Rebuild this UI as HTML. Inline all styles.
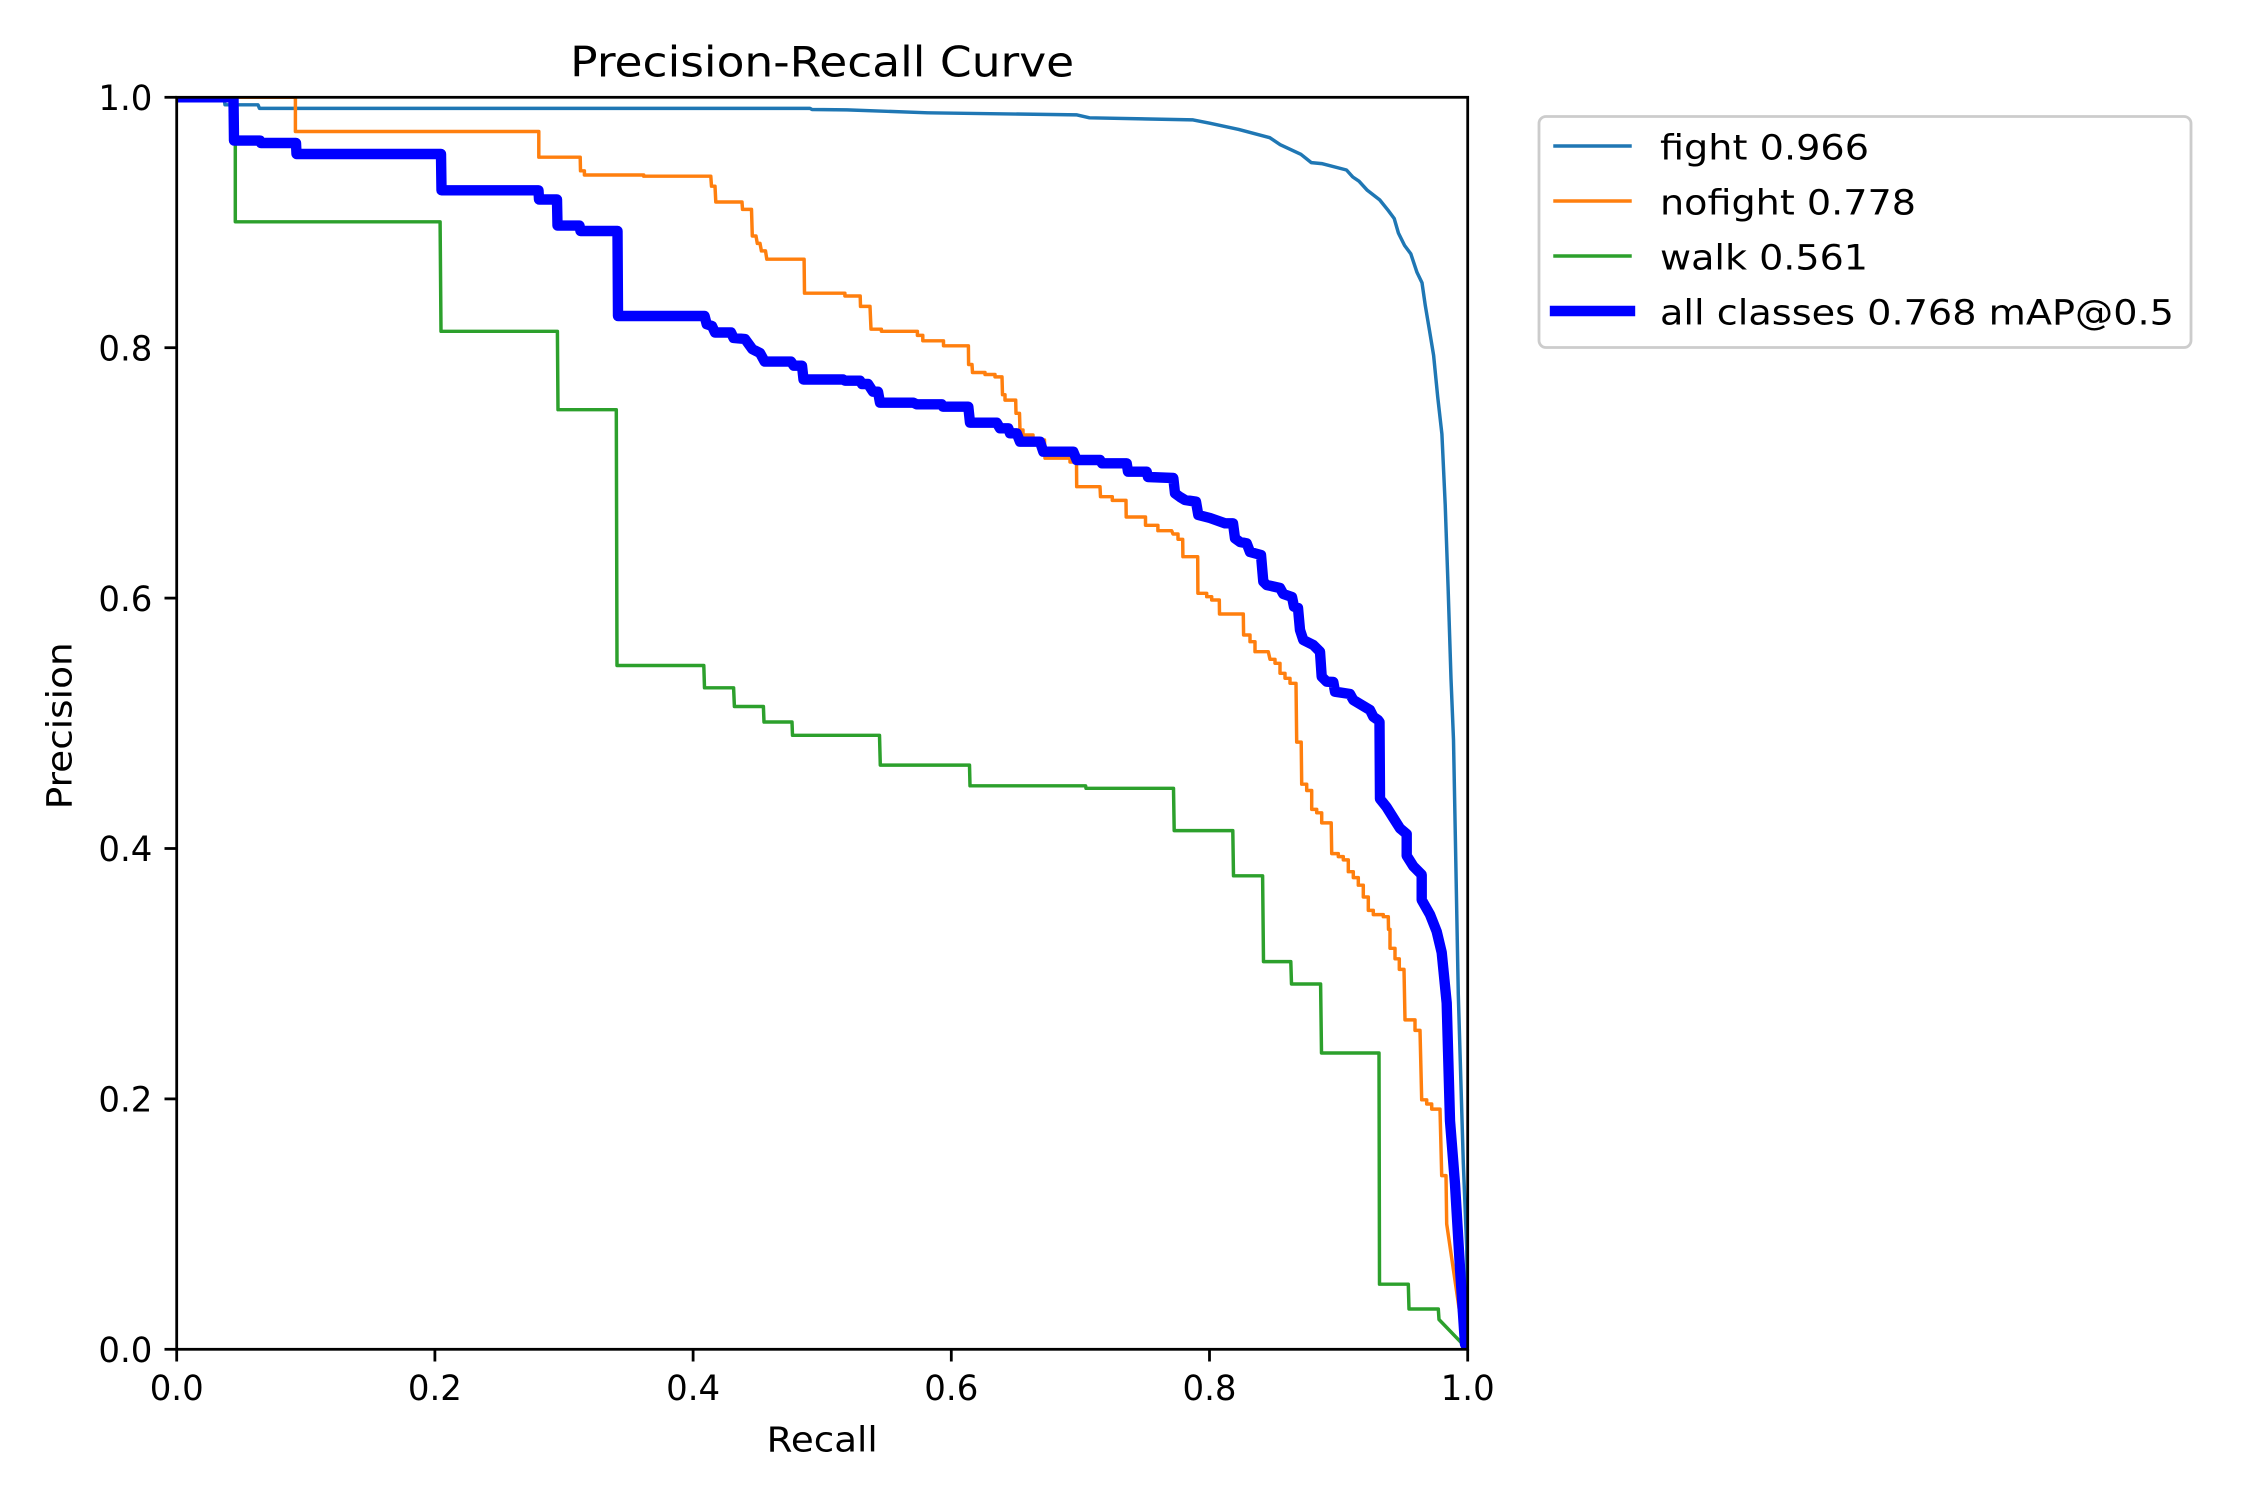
<!DOCTYPE html>
<html>
<head>
<meta charset="utf-8">
<style>
  html, body { margin: 0; padding: 0; background: #ffffff; }
  svg { display: block; }
  text { font-family: "DejaVu Sans", "Liberation Sans", sans-serif; fill: #000; }
</style>
</head>
<body>
<svg width="2250" height="1500" viewBox="0 0 2250 1500" xmlns="http://www.w3.org/2000/svg">
  <rect x="0" y="0" width="2250" height="1500" fill="#ffffff"/>
  <defs>
    <clipPath id="ax">
      <rect x="176.7" y="97.3" width="1291" height="1252"/>
    </clipPath>
  </defs>

  <!-- Title -->
  <text x="822.2" y="76.7" font-size="41.67" text-anchor="middle" textLength="504" lengthAdjust="spacingAndGlyphs">Precision-Recall Curve</text>

  <!-- Series -->
  <g clip-path="url(#ax)" fill="none" stroke-linejoin="round" stroke-linecap="square">
    <!-- fight -->
    <path stroke="#1f77b4" stroke-width="3.47" d="M176.7,97.3 L224,97.3 L225,104.8 L258,104.8 L259.5,108.4 L810,108.4 L812,109.5 L847,109.9 L927.8,112.8 L1077,114.9 L1089.5,117.8 L1193.1,119.9 L1209.7,123.2 L1238.7,129.4 L1269.8,137.7 L1280.2,144.7 L1300.9,154.3 L1311.3,162.6 L1321.7,163.6 L1346.5,170 L1352.8,177 L1359,181.2 L1367.3,190.3 L1379.7,199.9 L1388,210.2 L1394.2,218.5 L1398.4,233 L1404.6,245.5 L1410.8,253.8 L1417,272.4 L1422,282.8 L1425.3,305.6 L1429.5,330.5 L1433.6,355.3 L1437.7,396.8 L1441.9,434.1 L1445.2,504.6 L1448.1,587.5 L1451,678.7 L1453.5,740 L1455.3,834.7 L1458.3,994.6 L1463.3,1163 L1466.7,1247 L1467.7,1349.3"/>
    <!-- nofight -->
    <path stroke="#ff7f0e" stroke-width="3.47" d="M176.7,97.3 L295.4,97.3 L295.4,131.5 L538.8,131.5 L538.8,157.2 L580.2,157.2 L580.5,170.8 L584.4,170.8 L584.4,175 L643.7,175 L643.7,176.2 L710.8,176.2 L711.5,186.2 L715,186.2 L715.8,202 L742,202 L742.5,209.4 L751.5,209.4 L752.3,236 L756,236 L757.3,243.4 L760,243.4 L761.4,250.9 L765.5,250.9 L766.8,259.2 L804.1,259.2 L804.5,293.2 L844.9,293.2 L844.9,296 L860.2,296 L860.5,306.4 L870,306.4 L871,329.2 L881.4,329.2 L881.4,331.3 L917.4,331.3 L917.4,335.4 L922.8,335.4 L922.8,340.8 L943.5,340.8 L943.5,345.8 L968.4,345.8 L968.6,364.5 L972,364.5 L972.5,372.5 L985,372.5 L985,374.5 L995,374.5 L995,376.9 L1002,376.9 L1002.5,394.7 L1005,394.7 L1005,400.1 L1015.7,400.1 L1016,413.3 L1019.5,413.3 L1020,430 L1023,430 L1023,435 L1033,435 L1033,440 L1044.5,440 L1045,458.2 L1070,458.2 L1070,462 L1076.5,462 L1076.7,486.7 L1100,486.7 L1100.5,496.7 L1112.3,496.7 L1112.3,500.4 L1126,500.4 L1126.2,517 L1145.5,517 L1145.5,525.3 L1157.9,525.3 L1157.9,530.7 L1171.7,530.7 L1173,534 L1178,534 L1178,539.3 L1182.7,539.3 L1182.9,556.7 L1197.7,556.7 L1197.9,593.3 L1206.7,593.3 L1206.7,596.7 L1211.7,596.7 L1211.7,600 L1219.3,600 L1219.5,614 L1243.3,614 L1243.6,635 L1250,635 L1250,641.7 L1255,641.7 L1255,651.7 L1268.3,651.7 L1270,659.3 L1275,659.3 L1275,663.3 L1280,663.3 L1280,673.3 L1285,673.3 L1285,678.3 L1290,678.3 L1290,683.3 L1296,683.3 L1296.7,742.1 L1301.2,742.1 L1301.7,784.2 L1306.7,784.2 L1306.7,790.5 L1311.7,790.5 L1311.7,809.4 L1316.7,809.4 L1316.7,812.8 L1321.7,812.8 L1321.7,822.9 L1331.2,822.9 L1331.7,853.6 L1338.3,853.6 L1338.3,856.6 L1343.3,856.6 L1343.3,859.9 L1348.3,859.9 L1348.3,871.7 L1353.3,871.7 L1353.3,877.6 L1358.3,877.6 L1358.3,885.2 L1363.3,885.2 L1363.3,897 L1368.3,897 L1368.3,910.4 L1373.3,910.4 L1373.3,914.6 L1383.3,914.6 L1383.3,916.7 L1388.3,916.7 L1388.5,929.4 L1390,929.4 L1390,948.3 L1395,948.3 L1395,958.8 L1399.3,958.8 L1399.3,969.4 L1404,969.4 L1405,1019.9 L1415,1019.9 L1415,1030.4 L1420,1030.4 L1421.7,1099.8 L1426.7,1099.8 L1426.7,1104 L1431.7,1104 L1431.7,1109.1 L1440,1109.1 L1441.7,1175.6 L1446,1175.6 L1446.7,1224 L1460,1314.5 L1467.7,1349.3"/>
    <!-- walk -->
    <path stroke="#2ca02c" stroke-width="3.47" d="M176.7,97.3 L235.3,97.3 L235.3,221.8 L440.1,221.8 L441,331.3 L557.4,331.3 L558,409.7 L616.3,409.7 L617,665.5 L703.8,665.5 L704.5,687.8 L733.6,687.8 L734.4,706.5 L763.4,706.5 L764,722 L792,722 L792.5,735.3 L879.5,735.3 L880.3,765.1 L969.5,765.1 L970,785.8 L1085.6,785.8 L1086,788.3 L1173.5,788.3 L1174.2,830.6 L1232.8,830.6 L1233.5,875.8 L1262.6,875.8 L1263.5,961.6 L1290.8,961.6 L1291.5,984 L1320.6,984 L1321.5,1053 L1379,1053 L1379.5,1284.2 L1408.3,1284.2 L1409,1309 L1438.3,1309 L1439,1319.5 L1467.7,1349.3"/>
    <!-- all classes -->
    <path stroke="#0000ff" stroke-width="10.4" d="M176.7,97.3 L233.5,97.3 L234,140.6 L260,140.6 L261,143 L296,143 L296.5,154 L441,154 L441.5,190.3 L538.5,190.3 L539,199.5 L557,199.5 L557.5,225.6 L579.5,225.6 L580.5,231 L617.5,231 L618,316 L704.6,316 L706.7,324.2 L712,326 L715,332.5 L731,332.5 L733.6,338 L745,339 L752.3,349.1 L760,353 L764.7,361.6 L791,361.6 L793.7,365.7 L802,365.7 L803.5,379.5 L843,379.5 L845,380.7 L860,380.7 L862,384 L868,384 L873,391.7 L878,391.7 L880,402.7 L913.3,402.7 L916.7,404.3 L941.7,404.3 L943,406.7 L968.3,406.7 L970,422.7 L996.7,422.7 L1000,428.3 L1008.3,428.3 L1010,433.3 L1016.7,433.3 L1020,441.7 L1040,441.7 L1043.3,451.7 L1073.3,451.7 L1076.7,460 L1100,460 L1102,463.3 L1126.7,463.3 L1128,471.7 L1146.7,471.7 L1148,477 L1173.3,478 L1175,493.3 L1180,497 L1185,500 L1196,501.7 L1198.3,515 L1210,518 L1225,523.3 L1233,523.3 L1235,538.3 L1240,542 L1246.7,543.3 L1250,552 L1261,555 L1263.3,581.7 L1266.7,585 L1280,588 L1283.3,594 L1292,597 L1294,606.7 L1298,608 L1300,630 L1303.3,640 L1313.3,645 L1320,651.7 L1321.7,676.7 L1326.7,681.7 L1333.3,682 L1335,691.7 L1350,694 L1353.3,700 L1370,710 L1373.3,716.7 L1378,720 L1379.5,722 L1380,798.9 L1386.7,807.3 L1393.3,817.8 L1400,828.4 L1406.7,834 L1406.7,855.7 L1413.3,866.2 L1421.7,874.7 L1421.7,899.9 L1430,914.6 L1436.7,931.5 L1441.7,952.5 L1446.7,1003 L1450,1120.9 L1455,1184 L1460,1268.2 L1465,1343.9 L1467.7,1349.3"/>
  </g>

  <!-- Axes frame -->
  <rect x="176.7" y="97.3" width="1291" height="1252" fill="none" stroke="#000" stroke-width="2.78" stroke-linecap="square"/>

  <!-- X ticks -->
  <g stroke="#000" stroke-width="2.78">
    <line x1="176.7" y1="1349.3" x2="176.7" y2="1361.5"/>
    <line x1="434.9" y1="1349.3" x2="434.9" y2="1361.5"/>
    <line x1="693.1" y1="1349.3" x2="693.1" y2="1361.5"/>
    <line x1="951.3" y1="1349.3" x2="951.3" y2="1361.5"/>
    <line x1="1209.5" y1="1349.3" x2="1209.5" y2="1361.5"/>
    <line x1="1467.7" y1="1349.3" x2="1467.7" y2="1361.5"/>
  </g>
  <g font-size="34.72" text-anchor="middle">
    <text x="176.7" y="1400" textLength="54" lengthAdjust="spacingAndGlyphs">0.0</text>
    <text x="434.9" y="1400" textLength="54" lengthAdjust="spacingAndGlyphs">0.2</text>
    <text x="693.1" y="1400" textLength="54" lengthAdjust="spacingAndGlyphs">0.4</text>
    <text x="951.3" y="1400" textLength="54" lengthAdjust="spacingAndGlyphs">0.6</text>
    <text x="1209.5" y="1400" textLength="54" lengthAdjust="spacingAndGlyphs">0.8</text>
    <text x="1467.7" y="1400" textLength="54" lengthAdjust="spacingAndGlyphs">1.0</text>
  </g>

  <!-- Y ticks -->
  <g stroke="#000" stroke-width="2.78">
    <line x1="164.5" y1="1349.3" x2="176.7" y2="1349.3"/>
    <line x1="164.5" y1="1098.9" x2="176.7" y2="1098.9"/>
    <line x1="164.5" y1="848.5" x2="176.7" y2="848.5"/>
    <line x1="164.5" y1="598.1" x2="176.7" y2="598.1"/>
    <line x1="164.5" y1="347.7" x2="176.7" y2="347.7"/>
    <line x1="164.5" y1="97.3" x2="176.7" y2="97.3"/>
  </g>
  <g font-size="34.72" text-anchor="end">
    <text x="152.4" y="1362" textLength="54" lengthAdjust="spacingAndGlyphs">0.0</text>
    <text x="152.4" y="1111.6" textLength="54" lengthAdjust="spacingAndGlyphs">0.2</text>
    <text x="152.4" y="861.2" textLength="54" lengthAdjust="spacingAndGlyphs">0.4</text>
    <text x="152.4" y="610.8" textLength="54" lengthAdjust="spacingAndGlyphs">0.6</text>
    <text x="152.4" y="360.4" textLength="54" lengthAdjust="spacingAndGlyphs">0.8</text>
    <text x="152.4" y="110" textLength="54" lengthAdjust="spacingAndGlyphs">1.0</text>
  </g>

  <!-- Axis labels -->
  <text x="822.2" y="1451.7" font-size="34.72" text-anchor="middle" textLength="111" lengthAdjust="spacingAndGlyphs">Recall</text>
  <text transform="translate(71.7,725.8) rotate(-90)" x="0" y="0" font-size="34.72" text-anchor="middle" textLength="167" lengthAdjust="spacingAndGlyphs">Precision</text>

  <!-- Legend -->
  <rect x="1539" y="116.5" width="652" height="231" rx="7" ry="7" fill="#ffffff" fill-opacity="0.8" stroke="#cccccc" stroke-width="2.8"/>
  <g stroke-linecap="square">
    <line x1="1555" y1="146" x2="1630" y2="146" stroke="#1f77b4" stroke-width="3.47"/>
    <line x1="1555" y1="201" x2="1630" y2="201" stroke="#ff7f0e" stroke-width="3.47"/>
    <line x1="1555" y1="256" x2="1630" y2="256" stroke="#2ca02c" stroke-width="3.47"/>
    <line x1="1555" y1="311" x2="1630" y2="311" stroke="#0000ff" stroke-width="10.4"/>
  </g>
  <g font-size="34.72">
    <text x="1660" y="159.3" textLength="209" lengthAdjust="spacingAndGlyphs">fight 0.966</text>
    <text x="1660" y="214.6" textLength="256" lengthAdjust="spacingAndGlyphs">nofight 0.778</text>
    <text x="1660" y="269.6" textLength="208" lengthAdjust="spacingAndGlyphs">walk 0.561</text>
    <text x="1660" y="324.6" textLength="514" lengthAdjust="spacingAndGlyphs">all classes 0.768 mAP@0.5</text>
  </g>
</svg>
</body>
</html>
